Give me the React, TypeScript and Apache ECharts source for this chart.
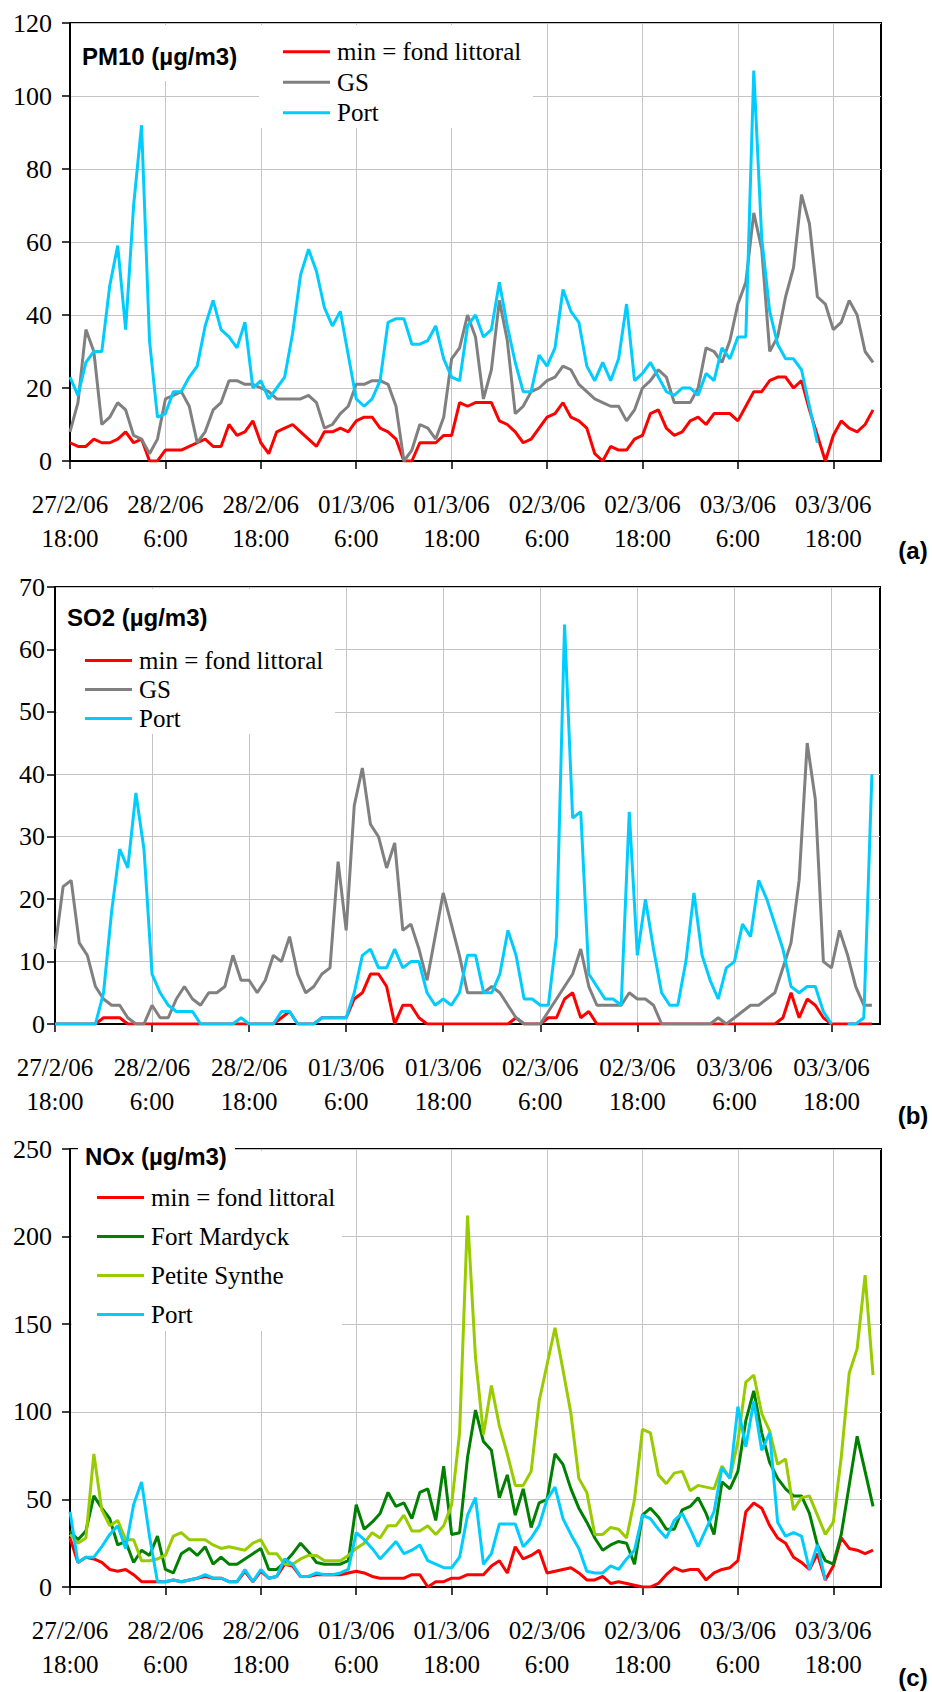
import React, { useEffect, useRef } from "react";
import * as echarts from "echarts";

// ---- categories / tick labels ----
const N_CATEGORIES = 103; // hourly steps, 27/2/06 18:00 -> 04/3/06 00:00
const TICK_STEP = 12; // one labelled tick every 12 hours
const TICK_LABELS = [
  "27/2/06\n18:00",
  "28/2/06\n6:00",
  "28/2/06\n18:00",
  "01/3/06\n6:00",
  "01/3/06\n18:00",
  "02/3/06\n6:00",
  "02/3/06\n18:00",
  "03/3/06\n6:00",
  "03/3/06\n18:00",
];

const NAME_MIN = "min = fond littoral";
const NAME_GS = "GS";
const NAME_PORT = "Port";
const NAME_FM = "Fort Mardyck";
const NAME_PS = "Petite Synthe";

// ---- PM10 ----
const PM10_MIN = [
  5, 4, 4, 6, 5, 5, 6, 8, 5, 6,
  0, 0, 3, 3, 3, 4, 5, 6, 4, 4,
  10, 7, 8, 11, 5, 2, 8, 9, 10, 8,
  6, 4, 8, 8, 9, 8, 11, 12, 12, 9,
  8, 6, 0, 0, 5, 5, 5, 7, 7, 16,
  15, 16, 16, 16, 11, 10, 8, 5, 6, 9,
  12, 13, 16, 12, 11, 9, 2, 0, 4, 3,
  3, 6, 7, 13, 14, 9, 7, 8, 11, 12,
  10, 13, 13, 13, 11, 15, 19, 19, 22, 23,
  23, 20, 22, 14, 7, 0, 7, 11, 9, 8,
  10, 14,
];
const PM10_GS = [
  8, 16, 36, 30, 10, 12, 16, 14, 7, 6,
  2, 6, 17, 18, 19, 15, 5, 8, 14, 16,
  22, 22, 21, 21, 20, 19, 17, 17, 17, 17,
  18, 16, 9, 10, 13, 15, 21, 21, 22, 22,
  21, 15, 0, 3, 10, 9, 6, 12, 28, 31,
  40, 34, 17, 25, 44, 33, 13, 15, 19, 20,
  22, 23, 26, 25, 21, 19, 17, 16, 15, 15,
  11, 14, 20, 22, 25, 23, 16, 16, 16, 20,
  31, 30, 27, 33, 43, 49, 68, 58, 30, 34,
  45, 53, 73, 65, 45, 43, 36, 38, 44, 40,
  30, 27,
];
const PM10_PORT = [
  23, 18, 27, 30, 30, 48, 59, 36, 70, 92,
  33, 12, 13, 19, 19, 23, 26, 37, 44, 36,
  34, 31, 38, 20, 22, 17, 20, 23, 35, 51,
  58, 52, 42, 37, 41, 29, 17, 15, 17, 22,
  38, 39, 39, 32, 32, 33, 37, 28, 23, 22,
  37, 40, 34, 36, 49, 37, 27, 19, 19, 29,
  26, 31, 47, 41, 38, 26, 22, 27, 22, 28,
  43, 22, 24, 27, 23, 19, 18, 20, 20, 18,
  24, 22, 31, 28, 34, 34, 107, 61, 41, 32,
  28, 28, 25, 15, 5, null, null, null, null, null,
  null, null,
];

// ---- SO2 ----
const SO2_MIN = [
  0, 0, 0, 0, 0, 0, 1, 1, 1, 0,
  0, 0, 0, 0, 0, 0, 0, 0, 0, 0,
  0, 0, 0, 0, 0, 0, 0, 0, 1, 2,
  0, 0, 0, 1, 1, 1, 1, 4, 5, 8,
  8, 6, 0, 3, 3, 1, 0, 0, 0, 0,
  0, 0, 0, 0, 0, 0, 0, 1, 0, 0,
  0, 1, 1, 4, 5, 1, 2, 0, 0, 0,
  0, 0, 0, 0, 0, 0, 0, 0, 0, 0,
  0, 0, 0, 0, 0, 0, 0, 0, 0, 0,
  1, 5, 1, 4, 3, 1, 0, 0, 0, 0,
  0, 0,
];
const SO2_GS = [
  12, 22, 23, 13, 11, 6, 4, 3, 3, 1,
  0, 0, 3, 1, 1, 4, 6, 4, 3, 5,
  5, 6, 11, 7, 7, 5, 7, 11, 10, 14,
  8, 5, 6, 8, 9, 26, 15, 35, 41, 32,
  30, 25, 29, 15, 16, 12, 7, 14, 21, 16,
  11, 5, 5, 5, 6, 5, 3, 1, 0, 0,
  0, 2, 4, 6, 8, 12, 6, 3, 3, 3,
  3, 5, 4, 4, 3, 0, 0, 0, 0, 0,
  0, 0, 1, 0, 1, 2, 3, 3, 4, 5,
  9, 13, 23, 45, 36, 10, 9, 15, 11, 6,
  3, 3,
];
const SO2_PORT = [
  0, 0, 0, 0, 0, 0, 5, 18, 28, 25,
  37, 28, 8, 5, 3, 2, 2, 2, 0, 0,
  0, 0, 0, 1, 0, 0, 0, 0, 2, 2,
  0, 0, 0, 1, 1, 1, 1, 5, 11, 12,
  9, 9, 12, 9, 10, 10, 5, 3, 4, 3,
  5, 11, 11, 5, 5, 8, 15, 11, 4, 4,
  3, 3, 14, 64, 33, 34, 8, 6, 4, 4,
  3, 34, 11, 20, 12, 5, 3, 3, 10, 21,
  11, 7, 4, 9, 10, 16, 14, 23, 20, 16,
  12, 6, 5, 6, 6, 2, 0, null, 0, 0,
  1, 40,
];

// ---- NOx ----
const NOX_MIN = [
  28, 14, 17, 16, 14, 10, 9, 10, 7, 3,
  3, 3, 3, 4, 3, 4, 5, 6, 5, 5,
  3, 3, 9, 3, 9, 5, 6, 13, 12, 6,
  6, 7, 7, 7, 7, 8, 9, 8, 6, 5,
  5, 5, 5, 7, 7, 0, 3, 3, 5, 5,
  7, 7, 7, 12, 15, 8, 23, 16, 18, 21,
  8, 9, 10, 11, 8, 4, 4, 6, 2, 3,
  2, 1, 0, 0, 2, 7, 11, 9, 10, 10,
  4, 8, 10, 11, 15, 43, 48, 45, 35, 28,
  25, 17, 14, 10, 19, 4, 12, 28, 22, 21,
  19, 21,
];
const NOX_FM = [
  32, 27, 32, 52, 45, 39, 24, 26, 14, 21,
  18, 29, 10, 8, 19, 22, 18, 23, 13, 17,
  13, 13, 16, 19, 22, 10, 10, 14, 19, 25,
  20, 14, 13, 13, 13, 15, 47, 33, 37, 42,
  54, 46, 48, 39, 54, 56, 38, 69, 30, 31,
  74, 101, 83, 78, 51, 64, 41, 56, 34, 48,
  50, 76, 70, 56, 45, 37, 28, 21, 24, 26,
  25, 13, 41, 45, 40, 33, 33, 44, 46, 51,
  42, 30, 60, 56, 66, 95, 112, 88, 71, 62,
  56, 52, 52, 42, 24, 15, 13, 30, 58, 86,
  66, 46,
];
const NOX_PS = [
  30, 25, 28, 76, 44, 35, 38, 27, 27, 15,
  15, 16, 18, 29, 31, 27, 27, 27, 24, 22,
  23, 22, 21, 25, 27, 19, 19, 13, 13, 16,
  18, 18, 15, 15, 15, 18, 22, 25, 31, 28,
  35, 35, 41, 32, 32, 35, 30, 35, 47, 88,
  212, 131, 87, 115, 92, 76, 58, 58, 66, 106,
  127, 148, 124, 99, 62, 54, 30, 30, 34, 33,
  28, 50, 90, 88, 64, 59, 65, 66, 55, 58,
  57, 56, 69, 62, 83, 117, 121, 99, 89, 70,
  73, 44, 51, 52, 41, 30, 37, 74, 122, 136,
  178, 121,
];
const NOX_PORT = [
  43, 14, 17, 17, 23, 30, 35, 22, 47, 60,
  29, 3, 3, 4, 3, 4, 5, 7, 5, 5,
  3, 3, 10, 3, 10, 5, 6, 16, 13, 6,
  6, 8, 7, 7, 8, 10, 31, 27, 22, 16,
  21, 26, 19, 21, 24, 15, 13, 11, 11, 17,
  41, 51, 13, 19, 36, 36, 36, 23, 28, 35,
  50, 57, 39, 30, 22, 9, 8, 8, 12, 10,
  16, 21, 41, 39, 33, 28, 38, 42, 33, 23,
  33, 43, 68, 62, 103, 80, 106, 78, 88, 37,
  29, 31, 29, 10, 24, 4, null, null, null, null,
  null, null,
];

const COLORS: Record<string, string> = {
  [NAME_MIN]: "#ff0000",
  [NAME_GS]: "#808080",
  [NAME_PORT]: "#00ccff",
  [NAME_FM]: "#008000",
  [NAME_PS]: "#99cc00",
};

const SERIF = "'Liberation Serif', 'Times New Roman', Times, serif";
const SANS = "'Liberation Sans', Arial, Helvetica, sans-serif";

export default function App() {
  const ref = useRef<HTMLDivElement>(null);

  useEffect(() => {
    if (!ref.current) return;
    const chart = echarts.init(ref.current, undefined, { renderer: "svg" });

    const categories: string[] = [];
    for (let i = 0; i < N_CATEGORIES; i++) categories.push(String(i));
    const onTick = (idx: number) => idx % TICK_STEP === 0 && idx / TICK_STEP < TICK_LABELS.length;

    const grids = [
      { left: 70, top: 23, width: 811, height: 438 },
      { left: 55, top: 587, width: 825, height: 437 },
      { left: 70, top: 1149, width: 811, height: 438 },
    ];
    const yDefs = [
      { max: 120, interval: 20, labelMargin: 18 },
      { max: 70, interval: 10, labelMargin: 10 },
      { max: 250, interval: 50, labelMargin: 18 },
    ];

    const xAxes = grids.map((_, gi) => ({
      type: "category",
      gridIndex: gi,
      data: categories,
      boundaryGap: false,
      axisLine: { show: true, lineStyle: { color: "#000", width: 2 } },
      axisTick: { show: true, interval: onTick, length: 8, lineStyle: { color: "#000", width: 1.5 } },
      axisLabel: {
        interval: onTick,
        margin: 26,
        color: "#000",
        fontFamily: SERIF,
        fontSize: 25,
        lineHeight: 34,
        formatter: (_v: string, idx: number) => (onTick(idx) ? TICK_LABELS[idx / TICK_STEP] : ""),
      },
      splitLine: { show: true, interval: onTick, lineStyle: { color: "#c4c4c4", width: 1 } },
    }));

    const yAxes = yDefs.map((d, gi) => ({
      type: "value",
      gridIndex: gi,
      min: 0,
      max: d.max,
      interval: d.interval,
      axisLine: { show: true, lineStyle: { color: "#000", width: 2 } },
      axisTick: { show: true, length: 8, lineStyle: { color: "#000", width: 1.5 } },
      axisLabel: {
        margin: d.labelMargin,
        color: "#000",
        fontFamily: SERIF,
        fontSize: 26,
      },
      splitLine: { show: true, lineStyle: { color: "#c4c4c4", width: 1 } },
    }));

    const mk = (name: string, data: (number | null)[], gi: number) => ({
      name,
      type: "line",
      xAxisIndex: gi,
      yAxisIndex: gi,
      data,
      symbol: "none",
      showSymbol: false,
      connectNulls: false,
      lineStyle: { color: COLORS[name], width: 3 },
      itemStyle: { color: COLORS[name] },
      emphasis: { disabled: true },
    });

    const series = [
      mk(NAME_MIN, PM10_MIN, 0),
      mk(NAME_GS, PM10_GS, 0),
      mk(NAME_PORT, PM10_PORT, 0),
      mk(NAME_MIN, SO2_MIN, 1),
      mk(NAME_GS, SO2_GS, 1),
      mk(NAME_PORT, SO2_PORT, 1),
      mk(NAME_MIN, NOX_MIN, 2),
      mk(NAME_FM, NOX_FM, 2),
      mk(NAME_PS, NOX_PS, 2),
      mk(NAME_PORT, NOX_PORT, 2),
    ];

    const legendBase = {
      orient: "vertical",
      icon: "rect",
      itemWidth: 47,
      itemHeight: 3,
      padding: 0,
      z: 20,
      selectedMode: false,
      textStyle: {
        color: "#000",
        fontFamily: SERIF,
        fontSize: 25,
        lineHeight: 26,
        padding: [0, 0, 0, 2],
      },
    };

    const legends = [
      { ...legendBase, left: 283, top: 38.7, itemGap: 4.5, data: [NAME_MIN, NAME_GS, NAME_PORT] },
      { ...legendBase, left: 85, top: 647.6, itemGap: 3, data: [NAME_MIN, NAME_GS, NAME_PORT] },
      { ...legendBase, left: 97, top: 1184.4, itemGap: 13, data: [NAME_MIN, NAME_FM, NAME_PS, NAME_PORT] },
    ];

    const whiteRect = (x: number, y: number, w: number, h: number) => ({
      type: "rect",
      shape: { x, y, width: w, height: h },
      style: { fill: "#fff" },
      z: 10,
      silent: true,
    });
    const txt = (text: string, x: number, y: number, align = "left") => ({
      type: "text",
      x,
      y,
      z: 15,
      silent: true,
      style: {
        text,
        fontFamily: SANS,
        fontSize: 24,
        fontWeight: "bold",
        fill: "#000",
        textAlign: align,
        textVerticalAlign: "middle",
      },
    });

    const option = {
      animation: false,
      backgroundColor: "#fff",
      textStyle: { fontFamily: SERIF },
      grid: grids.map((g) => ({
        ...g,
        show: true,
        borderColor: "#000",
        borderWidth: 2,
        backgroundColor: "transparent",
        containLabel: false,
      })),
      xAxis: xAxes,
      yAxis: yAxes,
      legend: legends,
      series,
      graphic: {
        elements: [
          whiteRect(72, 25, 178, 56),
          whiteRect(259, 25, 274, 103),
          whiteRect(57, 589, 278, 145),
          whiteRect(72, 1151, 270, 180),
          whiteRect(78, 1136, 157, 38),
          txt("PM10 (µg/m3)", 82, 56),
          txt("SO2 (µg/m3)", 67, 617),
          txt("NOx (µg/m3)", 85, 1156),
          txt("(a)", 913, 550, "center"),
          txt("(b)", 913, 1115, "center"),
          txt("(c)", 913, 1677, "center"),
        ],
      },
    };

    chart.setOption(option as any);
    return () => chart.dispose();
  }, []);

  return (
    <div
      ref={ref}
      style={{
        position: "absolute",
        left: 0,
        top: 0,
        width: 932,
        height: 1692,
        background: "#fff",
      }}
    />
  );
}
